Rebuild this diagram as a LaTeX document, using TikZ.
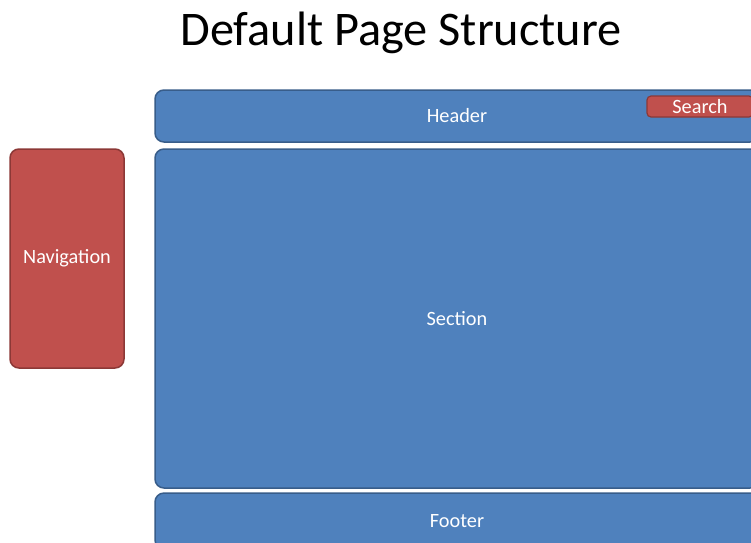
\documentclass[tikz,border=0pt]{standalone}
\usepackage{fontspec}
\setmainfont{Carlito}
\definecolor{bluefill}{HTML}{4F81BD}
\definecolor{blueedge}{HTML}{385D8A}
\definecolor{redfill}{HTML}{C0504D}
\definecolor{rededge}{HTML}{8C3836}
\begin{document}
\begin{tikzpicture}[x=1pt,y=-1pt,
  bluebox/.style={draw=blueedge,fill=bluefill,line width=1.5pt,rounded corners=9pt,inner sep=0pt,text=white,font=\fontsize{20.3}{22}\selectfont},
  redbox/.style={draw=rededge,fill=redfill,line width=1.5pt,rounded corners=9pt,inner sep=0pt,text=white,font=\fontsize{20.3}{22}\selectfont}]
\useasboundingbox (0,0) rectangle (751,542);
\clip (0,0) rectangle (751,542);
\fill[white] (0,0) rectangle (751,542);
\node[font=\fontsize{48.3}{54}\selectfont] (title) at (401,33) {Default Page Structure};
\node[bluebox,minimum width=604pt,minimum height=52pt] (header) at (457,116) {Header};
\node[bluebox,minimum width=604pt,minimum height=339pt] (section) at (457,318.5) {Section};
\node[bluebox,minimum width=604pt,minimum height=56pt] (footer) at (457,521) {Footer};
\node[redbox,minimum width=114pt,minimum height=219pt] (nav) at (67,258.5) {Navigation};
\node[redbox,rounded corners=4pt,line width=1.2pt,minimum width=106pt,minimum height=21pt] (search) at (700,106.5) {Search};
\end{tikzpicture}
\end{document}
